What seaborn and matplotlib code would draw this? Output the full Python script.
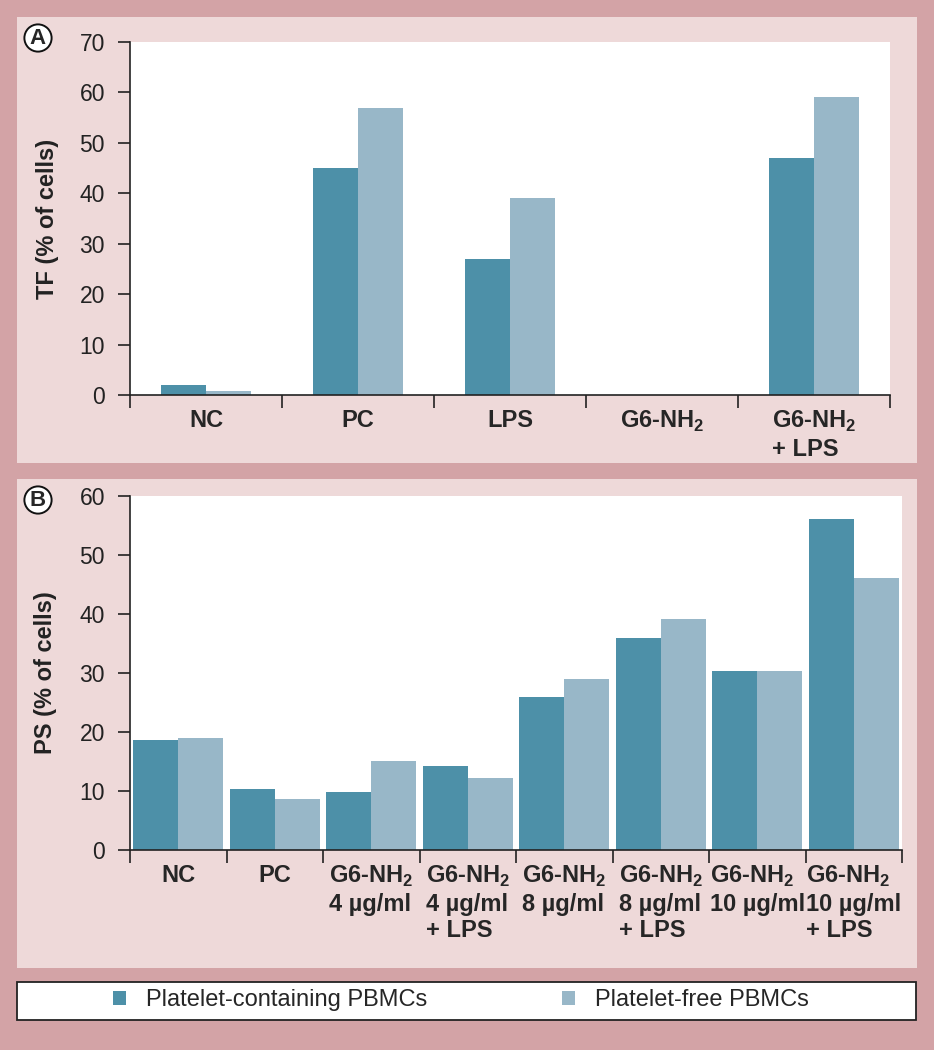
import numpy as np
import pandas as pd
import matplotlib
matplotlib.use("Agg")
import matplotlib.pyplot as plt
import seaborn as sns
from matplotlib.patches import Rectangle, Patch

# Data.
groups = ["Platelet-containing PBMCs", "Platelet-free PBMCs"]
colors = ["#4d90a8", "#98b7c8"]

tf_conditions = ["NC", "PC", "LPS", "G6-NH$_\\mathbf{2}$", "G6-NH$_\\mathbf{2}$\n+ LPS"]
tf_with_platelets = [2.0, 45.0, 27.0, 0.0, 47.0]
tf_platelet_free = [0.7, 57.0, 39.0, 0.0, 59.0]

ps_conditions = [
    "NC",
    "PC",
    "G6-NH$_\\mathbf{2}$\n4 µg/ml",
    "G6-NH$_\\mathbf{2}$\n4 µg/ml\n+ LPS",
    "G6-NH$_\\mathbf{2}$\n8 µg/ml",
    "G6-NH$_\\mathbf{2}$\n8 µg/ml\n+ LPS",
    "G6-NH$_\\mathbf{2}$\n10 µg/ml",
    "G6-NH$_\\mathbf{2}$\n10 µg/ml\n+ LPS",
]
ps_with_platelets = [18.7, 10.3, 9.8, 14.3, 26.0, 36.0, 30.3, 56.1]
ps_platelet_free = [19.0, 8.7, 15.1, 12.2, 29.0, 39.1, 30.3, 46.1]

outer_bg = "#d3a3a6"
panel_bg = "#eed9d9"

sns.set_style("ticks")
plt.rcParams["font.family"] = ["Liberation Sans", "DejaVu Sans"]
plt.rcParams["mathtext.fontset"] = "custom"
plt.rcParams["mathtext.rm"] = "Liberation Sans"
plt.rcParams["mathtext.bf"] = "Liberation Sans:bold"

W, H = 934, 1050
fig = plt.figure(figsize=(W / 100, H / 100), dpi=100, facecolor=outer_bg)


def px_box(x0, y0, x1, y1):
    # pixel box (top-left origin) -> figure fraction [left, bottom, width, height]
    return [x0 / W, 1 - y1 / H, (x1 - x0) / W, (y1 - y0) / H]


# light pink panels
for (x0, y0, x1, y1) in [(17, 17, 917, 463), (17, 479, 917, 968)]:
    l, b, w, h = px_box(x0, y0, x1, y1)
    fig.patches.append(Rectangle((l, b), w, h, transform=fig.transFigure,
                                 facecolor=panel_bg, edgecolor="none", zorder=-5))

# legend frame
l, b, w, h = px_box(17, 982, 916, 1020)
fig.patches.append(Rectangle((l, b), w, h, transform=fig.transFigure,
                             facecolor="white", edgecolor="#222222", linewidth=1.3, zorder=-5))

ax_a = fig.add_axes(px_box(130, 42, 890, 395))
ax_b = fig.add_axes(px_box(130, 496, 902, 850))


def draw_panel(ax, conditions, v1, v2, ymax, width, ylabel):
    df = pd.DataFrame({
        "condition": conditions * 2,
        "value": v1 + v2,
        "group": [groups[0]] * len(conditions) + [groups[1]] * len(conditions),
    })
    sns.barplot(data=df, x="condition", y="value", hue="group", order=conditions,
                hue_order=groups, palette=colors, width=width, saturation=1,
                linewidth=0, legend=False, ax=ax)
    n = len(conditions)
    ax.set_facecolor("white")
    ax.set_xlim(-0.5, n - 0.5)
    ax.set_ylim(0, ymax)
    ax.set_yticks(np.arange(0, ymax + 1, 10))
    ax.set_xticks(np.arange(n))
    ax.set_xticks(np.arange(n + 1) - 0.5, minor=True)
    ax.set_xticklabels(conditions, fontsize=17, fontweight="bold", linespacing=1.2)
    for lab in ax.get_xticklabels():
        lab.set_multialignment("left")
    ax.tick_params(axis="x", which="major", length=0, pad=10)
    ax.tick_params(axis="x", which="minor", length=9, width=1.2, color="#222222")
    ax.tick_params(axis="y", length=9, width=1.2, pad=9, labelsize=16.5,
                   color="#222222", labelcolor="#222222")
    ax.set_xlabel("")
    ax.set_ylabel(ylabel, fontsize=17, fontweight="bold", color="#222222")
    ax.yaxis.set_label_coords(-0.094, 0.5)
    sns.despine(ax=ax)
    for s in ["left", "bottom"]:
        ax.spines[s].set_linewidth(1.2)
        ax.spines[s].set_color("#222222")


draw_panel(ax_a, tf_conditions, tf_with_platelets, tf_platelet_free, 70, 0.59, "TF (% of cells)")
draw_panel(ax_b, ps_conditions, ps_with_platelets, ps_platelet_free, 60, 0.935, "PS (% of cells)")

# panel letters
for letter, y in [("A", 38), ("B", 500)]:
    fig.text(38 / W, 1 - y / H, letter, fontsize=16, fontweight="bold",
             ha="center", va="center",
             bbox=dict(boxstyle="circle,pad=0.14", facecolor="white",
                       edgecolor="#111111", linewidth=1.4))

handles = [Patch(facecolor=c, edgecolor="none") for c in colors]
fig.legend(handles, groups, loc="center", bbox_to_anchor=(461 / W, 1 - 1000 / H),
           ncol=2, frameon=False, fontsize=17, handlelength=0.55, handleheight=0.55,
           handletextpad=0.85, columnspacing=5.7)

fig.savefig("out.png", dpi=100, facecolor=outer_bg)
